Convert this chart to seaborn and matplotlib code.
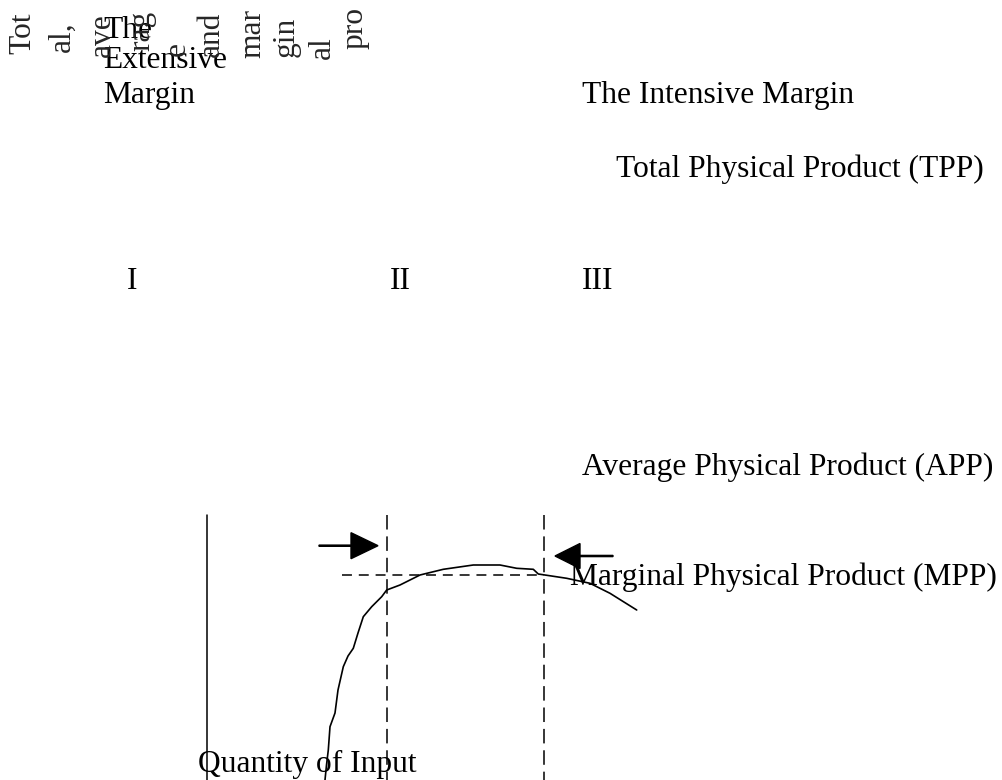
import numpy as np
import pandas as pd
import matplotlib
matplotlib.use('Agg')
import matplotlib.pyplot as plt
import seaborn as sns

sns.set_theme(style='white')
plt.rcParams['font.family'] = ['Liberation Serif', 'DejaVu Serif']

# traced product curve (drawing units, y grows downward like the page)
curve_x = [325, 326.5, 328.3, 330, 335, 338, 343.3, 348, 353.3, 358, 363.3, 371.7, 381.7, 386.7,
           400, 420, 443.3, 473.3, 500, 516.7, 533.3, 538.3, 566.7, 590, 610, 636.7]
curve_y = [780, 765, 750, 726.7, 713, 690, 666.7, 656, 648.3, 633, 616.7, 606.7, 596.7, 590,
           585, 575, 569.3, 565, 565, 568.3, 569.3, 574, 578.3, 583.3, 593.3, 610]

stage_labels = ['I', 'II', 'III']
curve_labels = ['Total Physical Product (TPP)', 'Average Physical Product (APP)',
                'Marginal Physical Product (MPP)']
margin_labels = ['The Intensive Margin']
extensive_words = ['The', 'Extensive', 'Margin']
y_label_chunks = ['Tot', 'al,', 'ave', 'rag', 'e', 'and', 'mar', 'gin', 'al', 'pro']
x_label = 'Quantity of Input'

df = pd.DataFrame({'q': curve_x, 'p': curve_y})

fig = plt.figure(figsize=(10.03, 7.80), dpi=100)
ax = fig.add_axes([0, 0, 1, 1])
ax.set_xlim(0, 1003)
ax.set_ylim(780, 0)
ax.axis('off')

sns.lineplot(data=df, x='q', y='p', sort=False, color='black', lw=1.2, ax=ax)

# axis and stage boundaries
ax.plot([207, 207], [515, 780], color='black', lw=1.1)
for xb in [387, 544]:
    ax.plot([xb, xb], [515, 780], color='black', lw=1.1, linestyle=(0, (9.5, 4.5)))
ax.plot([342, 544], [575, 575], color='black', lw=1.1, linestyle=(0, (6.5, 4.5)))

# arrows
ax.arrow(319, 545.7, 59, 0, width=1.2, head_width=26, head_length=27,
         length_includes_head=True, color='black')
ax.arrow(613, 556, -58, 0, width=1.2, head_width=25, head_length=25,
         length_includes_head=True, color='black')

fs = 22.7
kw = dict(fontsize=fs, color='black', ha='left', va='baseline')

for word, yb in zip(extensive_words, [38, 68, 103]):
    ax.text(103, yb, word, **kw)
ax.text(582, 103, margin_labels[0], **kw)
ax.text(616, 177, curve_labels[0], **kw)
ax.text(582, 475, curve_labels[1], **kw)
ax.text(570, 585, curve_labels[2], **kw)
for lab, xs in zip(stage_labels, [127, 390, 582]):
    ax.text(xs, 289, lab, **kw)
ax.text(198, 772, x_label, **kw)

# broken vertical axis title
chunk_pos = [(23, 33), (62, 37), (102, 35), (142, 31), (177, 49),
             (211, 34), (253, 33), (286, 37), (322, 48), (355, 28)]
for chunk, (cx, cy) in zip(y_label_chunks, chunk_pos):
    ax.text(cx, cy, chunk, fontsize=fs, rotation=90, ha='center', va='center')

fig.savefig('out.png', dpi=100, facecolor='white')
